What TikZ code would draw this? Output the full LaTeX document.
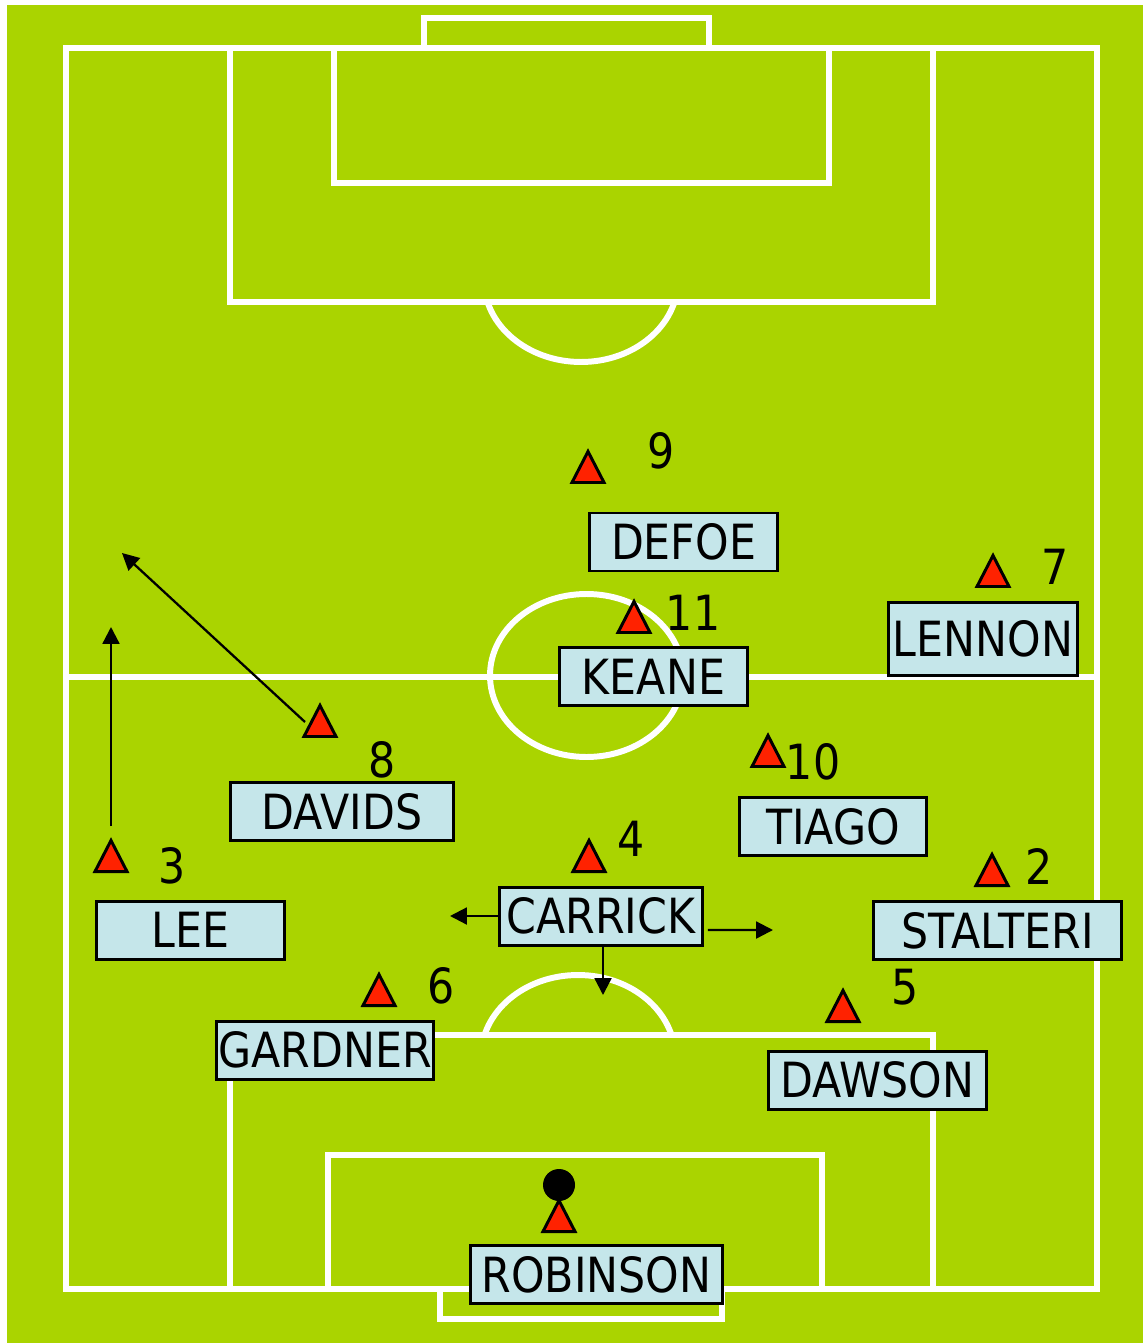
\documentclass[tikz,border=0pt]{standalone}
\usepackage{fontspec}
\setmainfont{DejaVu Sans}[FakeStretch=0.88]
\usetikzlibrary{arrows.meta}
\definecolor{campoVerde}{HTML}{AAD400}
\definecolor{fichaAzul}{HTML}{C5E6EA}
\definecolor{conoRojo}{HTML}{FF2200}

\begin{document}
\begin{tikzpicture}[x=1cm, y=-1cm,
    linea/.style={draw=white, line width=1.7pt},
    nombre/.style={draw=black, line width=0.85pt, fill=fichaAzul, minimum height=0.58cm,
                   inner sep=0pt, font=\fontsize{13.8}{16}\selectfont},
    dorsal/.style={inner sep=0pt, font=\fontsize{13.8}{16}\selectfont},
    jugador/.pic={\draw[fill=conoRojo, line width=0.85pt] (-0.16,0.155) -- (0,-0.155) -- (0.16,0.155) -- cycle;},
    mov/.style={-{Triangle[length=4.8pt,width=4.8pt]}, line width=0.65pt}]
    \useasboundingbox (0,0) rectangle (11.43,13.43);
    % campo
    \fill[white] (0,0) rectangle (11.43,13.43);
    \fill[campoVerde] (0.07,0.05) rectangle (11.43,13.43);
    \draw[linea] (0.66,0.48) rectangle (10.97,12.89);
    \draw[linea] (0.66,6.77) -- (10.97,6.77);
    \draw[linea] (5.865,6.755) ellipse [x radius=0.965, y radius=0.815];
    % area de arriba
    \draw[linea] (4.24,0.48) -- (4.24,0.18) -- (7.09,0.18) -- (7.09,0.48);
    \draw[linea] (2.30,0.48) rectangle (9.33,3.02);
    \draw[linea] (3.34,0.48) rectangle (8.29,1.83);
    \begin{scope}
      \clip (4.0,3.02) rectangle (7.6,4.0);
      \draw[linea] (5.81,2.80) ellipse [x radius=0.97, y radius=0.82];
    \end{scope}
    % area de abajo
    \draw[linea] (4.40,12.89) -- (4.40,13.19) -- (7.22,13.19) -- (7.22,12.89);
    \draw[linea] (2.30,12.89) rectangle (9.33,10.35);
    \draw[linea] (3.28,12.89) rectangle (8.22,11.55);
    \begin{scope}
      \clip (4.0,10.35) rectangle (7.6,9.5);
      \draw[linea] (5.78,10.57) ellipse [x radius=0.97, y radius=0.82];
    \end{scope}
    % delanteros
    \pic at (5.88,4.67) {jugador};
    \node[dorsal] (n9) at (6.61,4.51) {9};
    \node[nombre, minimum width=1.88cm] (defoe) at (6.835,5.42) {DEFOE};
    \pic at (6.34,6.17) {jugador};
    \node[dorsal] (n11) at (6.93,6.13) {11};
    \node[nombre, minimum width=1.88cm] (keane) at (6.535,6.765) {KEANE};
    \pic at (9.93,5.71) {jugador};
    \node[dorsal] (n7) at (10.55,5.67) {7};
    \node[nombre, minimum width=1.89cm, minimum height=0.73cm] (lennon) at (9.83,6.39) {LENNON};
    % medios
    \pic at (3.20,7.21) {jugador};
    \node[dorsal] (n8) at (3.82,7.60) {8};
    \node[nombre, minimum width=2.23cm] (davids) at (3.42,8.115) {DAVIDS};
    \pic at (7.68,7.51) {jugador};
    \node[dorsal] (n10) at (8.13,7.62) {10};
    \node[nombre, minimum width=1.87cm] (tiago) at (8.33,8.265) {TIAGO};
    \pic at (5.89,8.56) {jugador};
    \node[dorsal] (n4) at (6.31,8.39) {4};
    \node[nombre, minimum width=2.03cm] (carrick) at (6.01,9.16) {CARRICK};
    % defensas
    \pic at (1.11,8.56) {jugador};
    \node[dorsal] (n3) at (1.72,8.66) {3};
    \node[nombre, minimum width=1.88cm] (lee) at (1.905,9.30) {LEE};
    \pic at (9.92,8.70) {jugador};
    \node[dorsal] (n2) at (10.39,8.66) {2};
    \node[nombre, minimum width=2.48cm] (stalteri) at (9.975,9.305) {STALTERI};
    \pic at (3.79,9.90) {jugador};
    \node[dorsal] (n6) at (4.41,9.86) {6};
    \node[nombre, minimum width=2.17cm] (gardner) at (3.25,10.50) {GARDNER};
    \pic at (8.43,10.06) {jugador};
    \node[dorsal] (n5) at (9.05,9.87) {5};
    \node[nombre, minimum width=2.18cm] (dawson) at (8.775,10.80) {DAWSON};
    % portero
    \fill (5.59,11.85) circle (0.16);
    \pic at (5.59,12.16) {jugador};
    \node[nombre, minimum width=2.52cm] (robinson) at (5.965,12.745) {ROBINSON};
    % desmarques
    \coordinate (dav0) at (3.05,7.22);
    \coordinate (dav1) at (1.22,5.53);
    \coordinate (lee0) at (1.11,8.26);
    \coordinate (lee1) at (1.11,6.27);
    \coordinate (car1) at (4.50,9.16);
    \coordinate (car2) at (7.73,9.30);
    \coordinate (car3) at (6.03,9.95);
    \draw[mov] (dav0) -- (dav1);
    \draw[mov] (lee0) -- (lee1);
    \draw[mov] (carrick.west) -- (car1);
    \draw[mov] ([xshift=1.1pt,yshift=-4pt]carrick.east) -- (car2);
    \draw[mov] (carrick.south -| car3) -- (car3);
\end{tikzpicture}
\end{document}
